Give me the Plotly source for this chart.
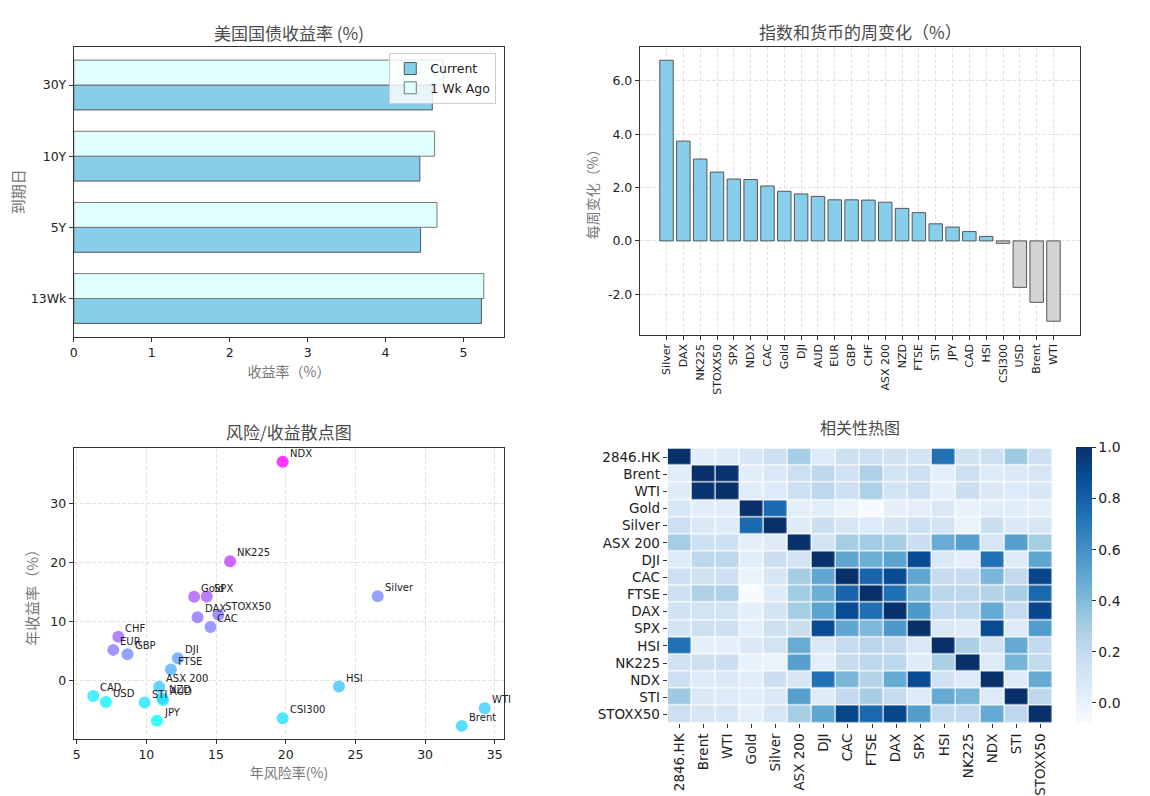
import plotly.graph_objects as go

W, H = 1150, 796

# ---------------- data ----------------
maturities = ["13Wk", "5Y", "10Y", "30Y"]
yield_current = [5.23, 4.45, 4.44, 4.60]
yield_week_ago = [5.26, 4.66, 4.63, 4.74]

chg_names = ["Silver", "DAX", "NK225", "STOXX50", "SPX", "NDX", "CAC", "Gold", "DJI", "AUD",
             "EUR", "GBP", "CHF", "ASX 200", "NZD", "FTSE", "STI", "JPY", "CAD", "HSI",
             "CSI300", "USD", "Brent", "WTI"]
chg_values = [6.77, 3.74, 3.07, 2.58, 2.32, 2.30, 2.06, 1.86, 1.76, 1.67,
              1.54, 1.54, 1.53, 1.45, 1.22, 1.06, 0.64, 0.52, 0.35, 0.17,
              -0.09, -1.74, -2.30, -3.01]

sc_names = ["NDX", "NK225", "Gold", "SPX", "Silver", "DAX", "STOXX50", "CAC", "CHF", "EUR",
            "GBP", "DJI", "FTSE", "ASX 200", "NZD", "AUD", "STI", "CAD", "USD", "JPY",
            "HSI", "CSI300", "WTI", "Brent"]
sc_risk = [19.78, 16.01, 13.43, 14.34, 26.60, 13.67, 15.17, 14.60, 7.99, 7.63,
           8.65, 12.26, 11.76, 10.92, 11.15, 11.20, 9.87, 6.19, 7.10, 10.76,
           23.82, 19.78, 34.28, 32.63]
sc_return = [37.1, 20.2, 14.15, 14.2, 14.26, 10.7, 11.1, 9.05, 7.36, 5.15,
             4.41, 3.74, 1.81, -1.13, -3.05, -3.35, -3.8, -2.66, -3.68, -6.9,
             -1.08, -6.45, -4.75, -7.75]

corr_labels = ["2846.HK", "Brent", "WTI", "Gold", "Silver", "ASX 200", "DJI", "CAC", "FTSE",
               "DAX", "SPX", "HSI", "NK225", "NDX", "STI", "STOXX50"]
corr_values = [
    [1.00, .04, .05, .09, .15, .30, .06, .15, .15, .13, .11, .73, .13, .15, .32, .15],
    [.04, 1.00, .98, .04, .08, .15, .22, .14, .27, .12, .15, .02, .15, .06, .07, .10],
    [.05, .98, 1.00, .04, .06, .15, .22, .15, .27, .12, .15, .02, .16, .07, .06, .10],
    [.09, .04, .04, 1.00, .76, .03, .04, -.01, -.08, .01, .03, .07, .00, .04, .04, .03],
    [.15, .08, .06, .76, 1.00, .05, .16, .10, .06, .11, .15, .12, -.01, .16, .07, .10],
    [.30, .15, .15, .03, .05, 1.00, .12, .30, .31, .30, .16, .47, .53, .10, .53, .30],
    [.06, .22, .22, .04, .16, .12, 1.00, .50, .46, .51, .89, .08, .03, .73, .05, .50],
    [.15, .14, .15, -.01, .10, .30, .50, 1.00, .78, .89, .50, .19, .18, .42, .20, .91],
    [.15, .27, .27, -.08, .06, .31, .46, .78, 1.00, .74, .41, .23, .22, .25, .29, .77],
    [.13, .12, .12, .01, .11, .30, .51, .89, .74, 1.00, .56, .20, .22, .48, .19, .91],
    [.11, .15, .15, .03, .15, .16, .89, .50, .41, .56, 1.00, .08, .05, .89, .06, .54],
    [.73, .02, .02, .07, .12, .47, .08, .19, .23, .20, .08, 1.00, .28, .13, .48, .20],
    [.13, .15, .16, .00, -.01, .53, .03, .18, .22, .22, .05, .28, 1.00, .06, .43, .20],
    [.15, .06, .07, .04, .16, .10, .73, .42, .25, .48, .89, .13, .06, 1.00, .06, .48],
    [.32, .07, .06, .04, .07, .53, .05, .20, .29, .19, .06, .48, .43, .06, 1.00, .21],
    [.15, .10, .10, .03, .10, .30, .50, .91, .77, .91, .54, .20, .20, .48, .21, 1.00],
]

# ---------------- helpers ----------------
def xd(a, b):
    return [a / W, b / W]

def yd(top, bottom):
    return [1 - bottom / H, 1 - top / H]

CJK = "Noto Sans CJK SC"
BASE = "DejaVu Sans, Noto Sans CJK SC"
TICKC = "#222222"
TITLEC = "#4a4a4a"
LABC = "#777777"

frame = dict(showline=True, linecolor="#333333", linewidth=1, mirror=True,
             ticks="outside", ticklen=4, tickcolor="#333333",
             tickfont=dict(family=BASE, size=12.5, color=TICKC), zeroline=False)

fig = go.Figure()

# ---- top-left: treasury yields (horizontal grouped bars) ----
fig.add_trace(go.Bar(
    y=maturities, x=yield_current, orientation="h", name="Current",
    width=0.35, offset=-0.35, marker=dict(color="#87ceeb", line=dict(color="#555555", width=1)),
    xaxis="x", yaxis="y"))
fig.add_trace(go.Bar(
    y=maturities, x=yield_week_ago, orientation="h", name="1 Wk Ago",
    width=0.35, offset=0.0, marker=dict(color="#e0ffff", line=dict(color="#777777", width=1)),
    xaxis="x", yaxis="y"))

# ---- top-right: weekly change ----
chg_colors = ["#87ceeb" if v >= 0 else "#d3d3d3" for v in chg_values]
fig.add_trace(go.Bar(
    x=chg_names, y=chg_values, width=0.8,
    marker=dict(color=chg_colors, line=dict(color="#555555", width=1)),
    showlegend=False, xaxis="x2", yaxis="y2"))

# ---- bottom-left: risk/return scatter ----
ratio = [r / k for r, k in zip(sc_return, sc_risk)]
fig.add_trace(go.Scatter(
    x=sc_risk, y=sc_return, mode="markers",
    marker=dict(size=12, color=ratio, colorscale=[[0, "rgb(0,255,255)"], [1, "rgb(255,0,255)"]],
                opacity=0.78, line=dict(width=0)),
    showlegend=False, xaxis="x3", yaxis="y3", cliponaxis=False))

# ---- bottom-right: correlation heatmap ----
blues = [[0.0, "#f7fbff"], [0.125, "#deebf7"], [0.25, "#c6dbef"], [0.375, "#9ecae1"],
         [0.5, "#6baed6"], [0.625, "#4292c6"], [0.75, "#2171b5"], [0.875, "#08519c"],
         [1.0, "#08306b"]]
zmin = min(min(r) for r in corr_values)
fig.add_trace(go.Heatmap(
    z=corr_values, x=corr_labels, y=corr_labels, colorscale=blues,
    zmin=zmin, zmax=1.0, xgap=1.2, ygap=1.2, xaxis="x4", yaxis="y4",
    colorbar=dict(x=1076 / W, xanchor="left", thickness=16,
                  y=1 - 448 / H, yanchor="top", len=276 / H, lenmode="fraction",
                  outlinewidth=0, ticks="outside", ticklen=4, tickcolor="#333333",
                  tickvals=[0, 0.2, 0.4, 0.6, 0.8, 1.0], ticktext=["0.0", "0.2", "0.4", "0.6", "0.8", "1.0"],
                  tickfont=dict(family=BASE, size=14, color=TICKC), xpad=0, ypad=0)))

# ---------------- annotations ----------------
def title_ann(text, cx, cy, size):
    return dict(text=text, x=cx / W, y=1 - cy / H, xref="paper", yref="paper",
                xanchor="center", yanchor="middle", showarrow=False,
                font=dict(family=CJK, size=size, color=TITLEC))

annotations = [
    title_ann("美国国债收益率 (%)", 286, 33, 17),
    title_ann("指数和货币的周变化（%）", 859, 32, 17),
    title_ann("风险/收益散点图", 286, 432, 17),
    title_ann("相关性热图", 859, 428, 16),
]
for nm, xr, yr in zip(sc_names, sc_risk, sc_return):
    annotations.append(dict(text=nm, x=xr, y=yr, xref="x3", yref="y3", showarrow=False,
                            xanchor="left", yanchor="bottom", xshift=5, yshift=1,
                            font=dict(family=BASE, size=10, color="#222222")))

# ---------------- layout ----------------
grid = dict(showgrid=True, gridcolor="#e2e2e2", griddash="4px,2px", gridwidth=1)

fig.update_layout(
    width=W, height=H, margin=dict(l=0, r=0, t=0, b=0),
    paper_bgcolor="white", plot_bgcolor="white",
    font=dict(family=BASE, color=TICKC),
    barmode="overlay",
    xaxis=dict(domain=xd(70, 502), anchor="y", range=[0, 5.523], tickvals=[0, 1, 2, 3, 4, 5],
               showgrid=False, **frame,
               title=dict(text="收益率（%）", font=dict(family=CJK, size=14, color=LABC), standoff=8)),
    yaxis=dict(domain=yd(47, 337), anchor="x", type="category", categoryorder="array",
               categoryarray=maturities, range=[-0.535, 3.535], showgrid=False, **frame,
               title=dict(text="到期日", font=dict(family=CJK, size=15, color=LABC), standoff=2)),
    xaxis2=dict(domain=xd(638, 1080), anchor="y2", type="category", range=[-1.59, 24.59],
                tickangle=-90, **grid,
                **{k: v for k, v in frame.items() if k != "tickfont"},
                tickfont=dict(family=BASE, size=11, color=TICKC)),
    yaxis2=dict(domain=yd(47, 335), anchor="x2", range=[-3.51, 7.27],
                tickvals=[-2, 0, 2, 4, 6], ticktext=["-2.0", "0.0", "2.0", "4.0", "6.0"],
                **grid, **frame,
                title=dict(text="每周变化（%）", font=dict(family=CJK, size=14, color=LABC), standoff=5)),
    xaxis3=dict(domain=xd(70, 502), anchor="y3", range=[4.79, 35.68],
                tickvals=[5, 10, 15, 20, 25, 30, 35], **grid, **frame,
                title=dict(text="年风险率(%)", font=dict(family=CJK, size=14, color=LABC), standoff=6)),
    yaxis3=dict(domain=yd(449, 740), anchor="x3", range=[-9.99, 39.34],
                tickvals=[-10, 0, 10, 20, 30], **grid, **frame,
                title=dict(text="年收益率（%）", font=dict(family=CJK, size=15, color=LABC), standoff=8)),
    xaxis4=dict(domain=xd(666, 1052), anchor="y4", type="category", tickangle=-90,
                showgrid=False, showline=False, ticks="outside", ticklen=4, tickcolor="#333333",
                tickfont=dict(family=BASE, size=13.5, color=TICKC), zeroline=False),
    yaxis4=dict(domain=yd(449, 724), anchor="x4", type="category", autorange="reversed",
                showgrid=False, showline=False, ticks="outside", ticklen=4, tickcolor="#333333",
                tickfont=dict(family=BASE, size=13.5, color=TICKC), zeroline=False),
    legend=dict(x=494 / W, xanchor="right", y=1 - 53 / H, yanchor="top",
                bgcolor="rgba(255,255,255,0.8)", bordercolor="#cccccc", borderwidth=1,
                font=dict(family=BASE, size=12.5, color=TICKC), traceorder="normal"),
    annotations=annotations,
)

fig.write_html("out.html", config={"displayModeBar": False},
               post_script="document.body.style.margin='0';")
